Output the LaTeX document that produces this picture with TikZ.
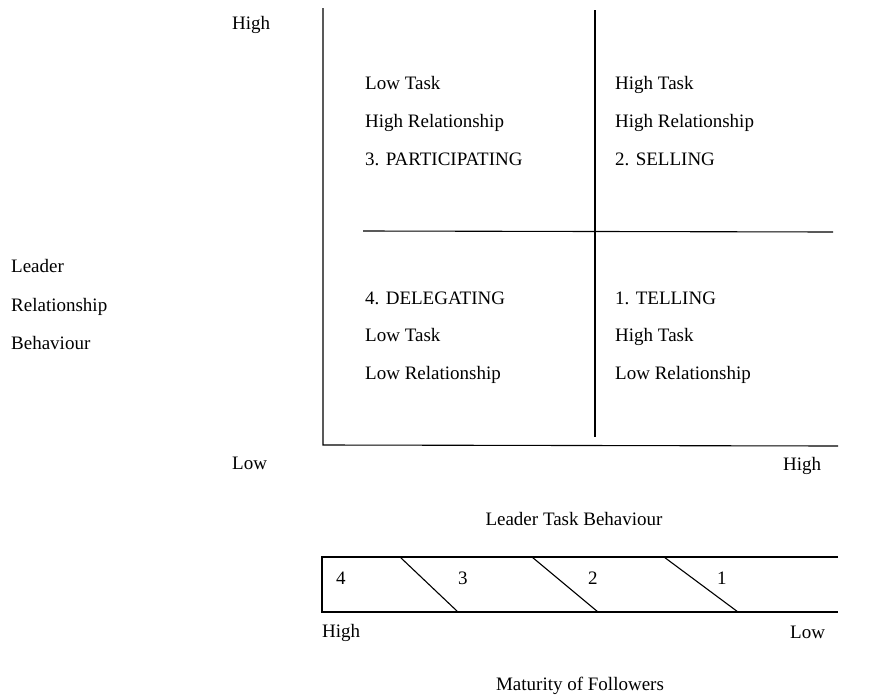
\documentclass[tikz,border=0pt]{standalone}
\usepackage{fontspec}
\setmainfont{Liberation Serif}
\begin{document}
\begin{tikzpicture}[x=1pt,y=-1pt,
    every node/.style={font=\fontsize{19}{22}\selectfont,inner sep=0pt},
    txt/.style={anchor=base west},
    axis/.style={line width=1.1pt}]
        \useasboundingbox (0,0) rectangle (869,696);
        % quadrant grid
        \draw [axis] (323,8) -- (323,445) -- (838,446);
        \draw [line width=1.6pt] (595,10) -- (595,437);
        \draw [axis] (363,231) -- (833,232);
        % upper quadrants
        \node [txt] (ul1) at (365,89) {Low Task};
        \node [txt] (ul2) at (365,127) {High Relationship};
        \node [txt] (ul3) at (365,165) {3. PARTICIPATING};
        \node [txt] (ur1) at (615,89) {High Task};
        \node [txt] (ur2) at (615,127) {High Relationship};
        \node [txt] (ur3) at (615,165) {2. SELLING};
        % lower quadrants
        \node [txt] (ll1) at (365,304) {4. DELEGATING};
        \node [txt] (ll2) at (365,341) {Low Task};
        \node [txt] (ll3) at (365,379) {Low Relationship};
        \node [txt] (lr1) at (615,304) {1. TELLING};
        \node [txt] (lr2) at (615,341) {High Task};
        \node [txt] (lr3) at (615,379) {Low Relationship};
        % axis labels
        \node [txt] (yhigh) at (232,29) {High};
        \node [txt] (ylow) at (232,469) {Low};
        \node [txt] (xhigh) at (783,470) {High};
        \node [txt] (ylab1) at (11,272) {Leader};
        \node [txt] (ylab2) at (11,311) {Relationship};
        \node [txt] (ylab3) at (11,349) {Behaviour};
        \node [anchor=base] (xlab) at (574,525) {Leader Task Behaviour};
        % maturity bar
        \draw [axis] (838,557) -- (322,557) -- (322,612) -- (838,612);
        \foreach \xa/\xb in {400/458,532/598,664/738}
            \draw [axis] (\xa,557) -- (\xb,612);
        \node [txt] (m4) at (336,584) {4};
        \node [txt] (m3) at (458,584) {3};
        \node [txt] (m2) at (588,584) {2};
        \node [txt] (m1) at (717,584) {1};
        \node [txt] (mhigh) at (322,637) {High};
        \node [txt] (mlow) at (790,638) {Low};
        \node [anchor=base] (mlab) at (580,690) {Maturity of Followers};
    \end{tikzpicture}
\end{document}
